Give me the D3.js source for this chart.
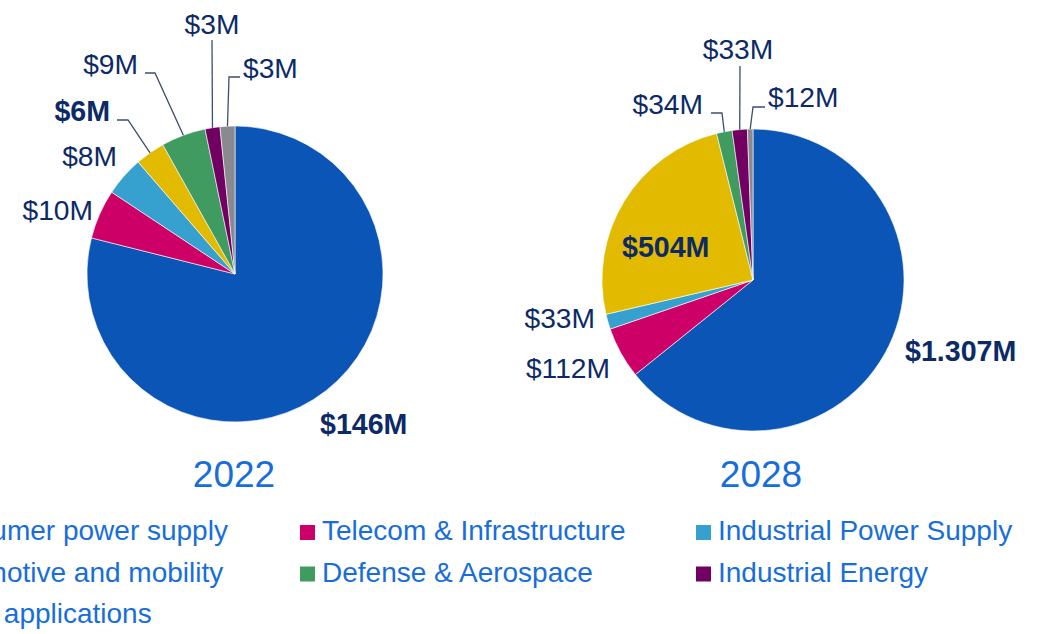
<!DOCTYPE html>
<html>
<head>
<meta charset="utf-8">
<script src="https://cdn.jsdelivr.net/npm/d3@7"></script>
<style>
  html, body { margin: 0; padding: 0; background: #fff; overflow: hidden; }
  svg { display: block; font-family: "Liberation Sans", Arial, sans-serif; }
</style>
</head>
<body>
<svg id="chart" width="1038" height="634"></svg>
<script>
// Market segments, in slice order (clockwise from 12 o'clock)
const categories = [
  "Consumer power supply",
  "Telecom & Infrastructure",
  "Industrial Power Supply",
  "Automotive and mobility",
  "Defense & Aerospace",
  "Industrial Energy",
  "Other applications"
];
const years = ["2022", "2028"];
// Market size per segment, $M
const values2022 = [146, 10, 8, 6, 9, 3, 3];
const values2028 = [1307, 112, 33, 504, 34, 33, 12];
// Segments whose value labels are emphasised
const highlighted = ["Consumer power supply", "Automotive and mobility"];

const colors = ["#0A55B5", "#CC0066", "#36A0CE", "#E2BA00", "#409B60", "#720062", "#888A8F"];

// Layout: pie centres/radii and label placement relative to each pie centre
const pieLayout = [
  { cx: 235, cy: 274, r: 148 },
  { cx: 753, cy: 280, r: 151 }
];
const labelLayout = [
  [
    { dx: 85,   dy: 160,  anchor: "start" },
    { dx: -142, dy: -54,  anchor: "end" },
    { dx: -118, dy: -108, anchor: "end" },
    { dx: -125, dy: -153, anchor: "end",    elbow: [-107, -154], tail: [-118, -154] },
    { dx: -97,  dy: -200, anchor: "end",    elbow: [-80, -201],  tail: [-90, -201] },
    { dx: -23,  dy: -240, anchor: "middle", tail: [-23, -234] },
    { dx: 8,    dy: -196, anchor: "start",  elbow: [-6, -197],   tail: [5, -197] }
  ],
  [
    { dx: 152,  dy: 81,   anchor: "start" },
    { dx: -143, dy: 98,   anchor: "end" },
    { dx: -158, dy: 48,   anchor: "end" },
    { dx: -131, dy: -23,  anchor: "start" },
    { dx: -50,  dy: -166, anchor: "end",    elbow: [-31, -167], tail: [-42, -167] },
    { dx: -15,  dy: -221, anchor: "middle", tail: [-13, -214] },
    { dx: 15,   dy: -173, anchor: "start",  elbow: [0, -173],   tail: [12, -173] }
  ]
];

// "$1.307M" style: dot as thousands separator, M suffix
const locale = d3.formatLocale({ decimal: ",", thousands: ".", grouping: [3], currency: ["$", "M"] });
const fmt = locale.format("$,");

const svg = d3.select("#chart");
const color = d3.scaleOrdinal().domain(categories).range(colors);
const pie = d3.pie().sort(null).value(d => d.value);

const labelColor = "#0B2A66";
const accentBlue = "#176EDB";

[values2022, values2028].forEach((vals, yi) => {
  const L = pieLayout[yi];
  const rows = categories.map((c, i) => ({ category: c, value: vals[i] }));
  const arcs = pie(rows);
  const arc = d3.arc().innerRadius(0).outerRadius(L.r);
  const edge = d3.arc().innerRadius(L.r).outerRadius(L.r);

  const g = svg.append("g").attr("transform", `translate(${L.cx},${L.cy})`);

  g.selectAll("path.slice")
    .data(arcs)
    .join("path")
    .attr("class", "slice")
    .attr("d", arc)
    .attr("fill", d => color(d.data.category))
    .attr("stroke", "#fff")
    .attr("stroke-width", 0.6);

  // leader lines from the slice edge to the label
  arcs.forEach((d, i) => {
    const pl = labelLayout[yi][i];
    if (!pl.tail) return;
    const p0 = edge.centroid(d);
    const pts = [p0];
    if (pl.elbow) pts.push(pl.elbow);
    pts.push(pl.tail);
    g.append("path")
      .attr("d", d3.line()(pts))
      .attr("fill", "none")
      .attr("stroke", "#3D4E6C")
      .attr("stroke-width", 1.3);
  });

  g.selectAll("text.value")
    .data(arcs)
    .join("text")
    .attr("class", "value")
    .attr("x", (d, i) => labelLayout[yi][i].dx)
    .attr("y", (d, i) => labelLayout[yi][i].dy)
    .attr("text-anchor", (d, i) => labelLayout[yi][i].anchor)
    .attr("font-size", d => highlighted.includes(d.data.category) ? 28.6 : 28.2)
    .attr("font-weight", d => highlighted.includes(d.data.category) ? "bold" : "normal")
    .attr("fill", labelColor)
    .text(d => fmt(d.data.value));

  svg.append("text")
    .attr("x", L.cx + (yi === 0 ? -1 : 8))
    .attr("y", 487)
    .attr("text-anchor", "middle")
    .attr("font-size", 37)
    .attr("fill", accentBlue)
    .text(years[yi]);
});

// Legend: three columns, row-major
const legendX = d3.scalePoint().domain([0, 1, 2]).range([-74, 718]);
const legendY = d3.scalePoint().domain([0, 1, 2]).range([540, 623]);
const legend = svg.append("g");
const items = legend.selectAll("g")
  .data(categories)
  .join("g")
  .attr("transform", (c, i) => `translate(${legendX(i % 3)},${legendY(Math.floor(i / 3))})`);
items.append("rect")
  .attr("x", -22).attr("y", -15)
  .attr("width", 15).attr("height", 15)
  .attr("fill", c => color(c));
items.append("text")
  .attr("x", 0).attr("y", 0)
  .attr("font-size", 28)
  .attr("fill", accentBlue)
  .text(c => c);
</script>
</body>
</html>
